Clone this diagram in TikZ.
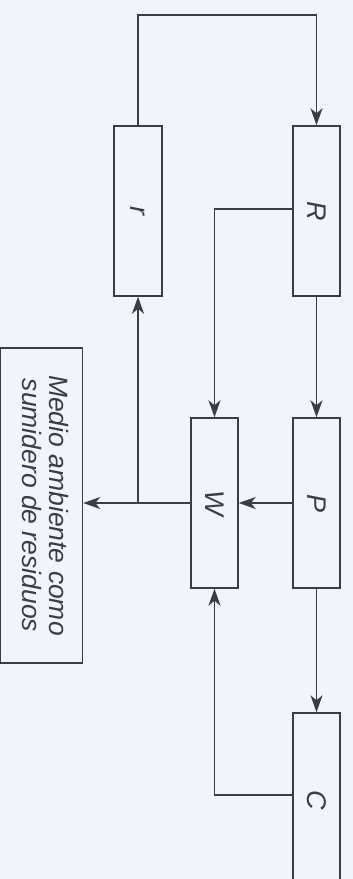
\documentclass[tikz,border=0pt]{standalone}
\usepackage{fontspec}
\setmainfont{Liberation Sans}
\usetikzlibrary{arrows.meta}
\definecolor{bg}{HTML}{F3F3FB}
\definecolor{ln}{HTML}{3C3C44}
\begin{document}
\begin{tikzpicture}[x=1pt,y=-1pt,
  blk/.style={draw=ln,line width=1.5pt,minimum width=47pt,minimum height=170pt,inner sep=0pt,
    font=\fontsize{27}{31}\selectfont\itshape,text=ln},
  arr/.style={draw=ln,line width=1.5pt,-{Stealth[length=17pt,width=12pt,inset=5pt]}}]
\useasboundingbox (0,0) rectangle (353,879);
\clip (0,0) rectangle (353,879);
\fill[bg] (0,0) rectangle (353,879);
\node[blk] (R) at (316.5,211) {\rotatebox{-90}{R}};
\node[blk,minimum width=48pt] (r) at (138,211) {\rotatebox{-90}{r}};
\node[blk] (P) at (316.5,503) {\rotatebox{-90}{P}};
\node[blk] (W) at (214.5,503) {\rotatebox{-90}{W}};
\node[blk,minimum height=174pt] (C) at (316.5,800) {\rotatebox{-90}{C}};
\node[draw=ln,line width=1.5pt,minimum width=82pt,minimum height=315pt,inner sep=0pt,text=ln,
  font=\fontsize{26.5}{30}\selectfont\itshape] (M) at (41.5,505.5)
  {\rotatebox{-90}{\begin{tabular}{@{}c@{}}Medio ambiente como\\[-3pt]sumidero de residuos\end{tabular}}};
\coordinate (t) at (0,15);
\draw[arr] (r.north) -- (r.north |- t) -| (R.north);
\draw[arr] ([yshift=2pt]R.west) -| (W.north);
\draw[arr] (R.south) -- (P.north);
\draw[arr] (P.west) -- (W.east);
\draw[arr] (P.south) -- (C.north);
\draw[arr] ([yshift=5pt]C.west) -| (W.south);
\draw[arr] (W.west) -- (W.west -| M.east);
\draw[arr] (W.west -| r.south) -- (r.south);
\end{tikzpicture}
\end{document}
